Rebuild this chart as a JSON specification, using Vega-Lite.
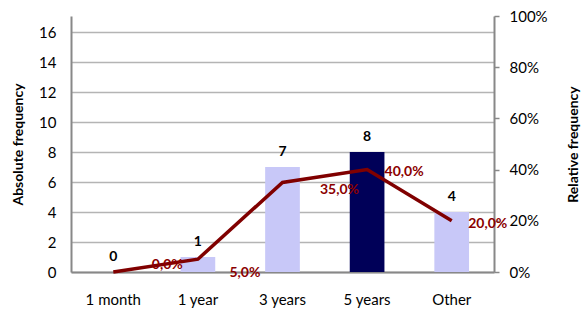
{
  "$schema": "https://vega.github.io/schema/vega-lite/v6.json",
  "width": 423,
  "height": 256,
  "autosize": "none",
  "padding": {"left": 71, "top": 16, "right": 87, "bottom": 37},
  "background": "white",
  "config": {
    "view": {"stroke": null},
    "font": "Lato",
    "axis": {"labelFont": "Lato", "titleFont": "Lato", "labelFontSize": 15, "labelColor": "#000000", "titleColor": "#000000"}
  },
  "data": {
    "values": [
      {"period": "1 month", "count": 0, "rel": 0.0, "label": "0,0%", "highlight": "no"},
      {"period": "1 year", "count": 1, "rel": 0.05, "label": "5,0%", "highlight": "no"},
      {"period": "3 years", "count": 7, "rel": 0.35, "label": "35,0%", "highlight": "no"},
      {"period": "5 years", "count": 8, "rel": 0.40, "label": "40,0%", "highlight": "yes"},
      {"period": "Other", "count": 4, "rel": 0.20, "label": "20,0%", "highlight": "no"}
    ]
  },
  "encoding": {
    "x": {
      "field": "period",
      "type": "nominal",
      "sort": null,
      "scale": {"paddingInner": 0.59, "paddingOuter": 0.295},
      "axis": {"title": null, "labelAngle": 0, "ticks": false, "domainColor": "#888888", "domainWidth": 2, "labelPadding": 20, "labelFontSize": 15}
    }
  },
  "layer": [
    {
      "encoding": {
        "y": {
          "field": "count", "type": "quantitative",
          "scale": {"domain": [0, 17.067], "nice": false, "zero": true},
          "axis": {"title": "Absolute frequency", "titleFontSize": 14, "titleFontWeight": "bold", "titlePadding": 13, "values": [0, 2, 4, 6, 8, 10, 12, 14, 16], "tickCount": 9, "labelOverlap": false, "ticks": false, "labelPadding": 15, "gridColor": "#b4b4b4", "gridWidth": 1.5, "domainColor": "#888888", "domainWidth": 2}
        }
      },
      "layer": [
        {
          "mark": {"type": "bar"},
          "encoding": {
            "color": {"field": "highlight", "type": "nominal", "scale": {"domain": ["no", "yes"], "range": ["#c8c8f8", "#000058"]}, "legend": null}
          }
        },
        {
          "mark": {"type": "text", "baseline": "bottom", "dy": -8, "fontWeight": "bold", "fontSize": 14, "color": "#000000", "font": "Lato"},
          "encoding": {
            "text": {"field": "count", "type": "quantitative"}
          }
        }
      ]
    },
    {
      "encoding": {
        "y": {
          "field": "rel", "type": "quantitative",
          "scale": {"domain": [0, 1], "nice": false},
          "axis": {"orient": "right", "title": "Relative frequency", "titleAngle": 270, "titleFontSize": 14, "titleFontWeight": "bold", "titlePadding": 33, "format": ".0%", "values": [0, 0.2, 0.4, 0.6, 0.8, 1], "labelOverlap": false, "grid": false, "tickSize": 5, "tickColor": "#888888", "tickWidth": 1.5, "labelPadding": 10, "domainColor": "#888888", "domainWidth": 2}
        }
      },
      "layer": [
        {
          "mark": {"type": "line", "color": "#800000", "strokeWidth": 3.5}
        },
        {
          "transform": [{"filter": "datum.period == '1 month'"}],
          "mark": {"type": "text", "fontWeight": "bold", "fontSize": 14, "color": "#8b0000", "dx": 54, "dy": -7, "font": "Lato"},
          "encoding": {"text": {"field": "label"}}
        },
        {
          "transform": [{"filter": "datum.period == '1 year'"}],
          "mark": {"type": "text", "fontWeight": "bold", "fontSize": 14, "color": "#8b0000", "dx": 47, "dy": 14, "font": "Lato"},
          "encoding": {"text": {"field": "label"}}
        },
        {
          "transform": [{"filter": "datum.period == '3 years'"}],
          "mark": {"type": "text", "fontWeight": "bold", "fontSize": 14, "color": "#8b0000", "dx": 57, "dy": 8, "font": "Lato"},
          "encoding": {"text": {"field": "label"}}
        },
        {
          "transform": [{"filter": "datum.period == '5 years'"}],
          "mark": {"type": "text", "fontWeight": "bold", "fontSize": 14, "color": "#8b0000", "dx": 37, "dy": 2, "font": "Lato"},
          "encoding": {"text": {"field": "label"}}
        },
        {
          "transform": [{"filter": "datum.period == 'Other'"}],
          "mark": {"type": "text", "fontWeight": "bold", "fontSize": 14, "color": "#8b0000", "dx": 36, "dy": 3, "font": "Lato"},
          "encoding": {"text": {"field": "label"}}
        }
      ]
    }
  ],
  "resolve": {"scale": {"y": "independent", "color": "independent"}}
}
